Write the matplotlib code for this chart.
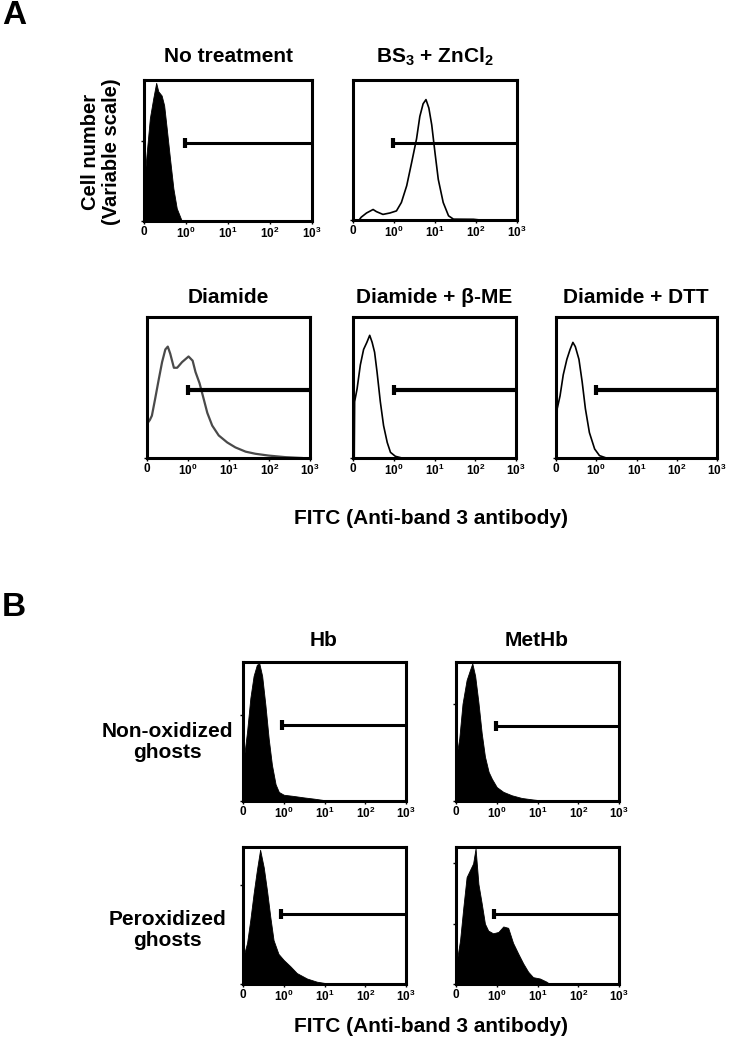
import matplotlib
matplotlib.use('Agg')
import matplotlib.pyplot as plt

plt.rcParams['font.family'] = ['Liberation Sans', 'DejaVu Sans']
plt.rcParams['font.weight'] = 'bold'
plt.rcParams['mathtext.fontset'] = 'custom'
plt.rcParams['mathtext.rm'] = 'Liberation Sans:bold'
plt.rcParams['mathtext.bf'] = 'Liberation Sans:bold'
plt.rcParams['mathtext.it'] = 'Liberation Sans:bold:italic'

W, H = 731, 1050

# x in decade display units: 0 -> "0", 1 -> 10^0, ... 4 -> 10^3
# y as fraction of each panel's (variable) scale
x_labels = ['0', r'$\mathbf{10^{0}}$', r'$\mathbf{10^{1}}$', r'$\mathbf{10^{2}}$', r'$\mathbf{10^{3}}$']

no_treat_x = [0.0, 0.02, 0.06, 0.14, 0.22, 0.29, 0.34, 0.42, 0.48, 0.54, 0.62, 0.70, 0.78, 0.86, 0.90]
no_treat_y = [0.0, 0.33, 0.47, 0.73, 0.87, 0.98, 0.92, 0.89, 0.82, 0.66, 0.44, 0.23, 0.09, 0.03, 0.0]

bs3_x = [0.15, 0.20, 0.33, 0.49, 0.57, 0.73, 0.90, 1.06, 1.18, 1.31, 1.43, 1.55, 1.63, 1.71, 1.78,
         1.85, 1.92, 2.00, 2.08, 2.20, 2.33, 2.45, 2.94, 3.10]
bs3_y = [0.0, 0.02, 0.05, 0.075, 0.06, 0.04, 0.05, 0.065, 0.125, 0.245, 0.41, 0.58, 0.74, 0.83, 0.86,
         0.80, 0.68, 0.48, 0.29, 0.125, 0.03, 0.006, 0.005, 0.0]

diamide_x = [0.01, 0.02, 0.07, 0.12, 0.20, 0.29, 0.37, 0.45, 0.51, 0.57, 0.66, 0.74, 0.86, 1.02, 1.12,
             1.19, 1.29, 1.39, 1.48, 1.60, 1.76, 1.97, 2.17, 2.42, 2.66, 2.99, 3.40, 3.80]
diamide_y = [0.0, 0.25, 0.27, 0.30, 0.42, 0.56, 0.68, 0.77, 0.79, 0.74, 0.64, 0.64, 0.68, 0.72, 0.69,
             0.61, 0.53, 0.42, 0.32, 0.23, 0.16, 0.11, 0.075, 0.045, 0.03, 0.017, 0.006, 0.0]

bme_x = [0.03, 0.04, 0.10, 0.18, 0.26, 0.34, 0.41, 0.47, 0.53, 0.59, 0.67, 0.75, 0.84, 0.92, 1.04, 1.20]
bme_y = [0.0, 0.40, 0.49, 0.66, 0.77, 0.82, 0.87, 0.82, 0.75, 0.61, 0.40, 0.23, 0.11, 0.04, 0.012, 0.0]

dtt_x = [0.02, 0.03, 0.10, 0.18, 0.27, 0.35, 0.42, 0.48, 0.57, 0.65, 0.73, 0.83, 0.96, 1.08, 1.25]
dtt_y = [0.0, 0.35, 0.44, 0.59, 0.70, 0.77, 0.82, 0.79, 0.70, 0.54, 0.35, 0.18, 0.064, 0.017, 0.0]

hb_non_x = [0.0, 0.01, 0.10, 0.18, 0.26, 0.34, 0.40, 0.47, 0.55, 0.63, 0.71, 0.80, 0.88, 1.00, 1.25,
            1.49, 1.74, 1.98, 2.15]
hb_non_y = [0.0, 0.28, 0.50, 0.74, 0.90, 0.98, 0.99, 0.90, 0.69, 0.45, 0.26, 0.12, 0.065, 0.045, 0.036,
            0.026, 0.017, 0.007, 0.0]

met_non_x = [0.0, 0.01, 0.08, 0.16, 0.26, 0.34, 0.40, 0.47, 0.55, 0.63, 0.71, 0.80, 0.88, 1.00, 1.16,
             1.37, 1.61, 1.86, 2.07, 2.23]
met_non_y = [0.0, 0.32, 0.45, 0.70, 0.87, 0.94, 0.99, 0.90, 0.71, 0.49, 0.32, 0.21, 0.16, 0.10, 0.066,
             0.041, 0.022, 0.012, 0.005, 0.0]

hb_per_x = [0.0, 0.01, 0.10, 0.18, 0.26, 0.34, 0.42, 0.51, 0.59, 0.67, 0.75, 0.87, 1.00, 1.16, 1.32,
            1.57, 1.81, 2.06, 2.55]
hb_per_y = [0.0, 0.20, 0.30, 0.47, 0.66, 0.83, 0.98, 0.85, 0.68, 0.49, 0.32, 0.22, 0.175, 0.13, 0.08,
            0.04, 0.017, 0.005, 0.0]

met_per_x = [0.0, 0.01, 0.10, 0.18, 0.26, 0.34, 0.42, 0.48, 0.55, 0.63, 0.71, 0.79, 0.91, 1.04, 1.16,
             1.28, 1.40, 1.53, 1.65, 1.77, 1.89, 2.06, 2.22, 2.30]
met_per_y = [0.0, 0.15, 0.32, 0.56, 0.78, 0.83, 0.88, 0.99, 0.73, 0.59, 0.44, 0.39, 0.37, 0.38, 0.42,
             0.41, 0.30, 0.22, 0.15, 0.09, 0.05, 0.04, 0.017, 0.0]

fig = plt.figure(figsize=(W / 100, H / 100), dpi=100)


def px_axes(l, t, r, b):
    return fig.add_axes([l / W, 1 - b / H, (r - l) / W, (b - t) / H])


def px_text(x, y, s, **kw):
    fig.text(x / W, 1 - y / H, s, ha='center', va='center', fontweight='bold', **kw)


def panel(rect, xs, ys, filled, gate_y, gate_x0=1.0, gate_lw=2.2, yticks=(),
          color='black', lw=1.0):
    ax = px_axes(*rect)
    if filled:
        ax.fill_between(xs, ys, 0, color='black', lw=0.6)
    else:
        ax.plot(xs, ys, color=color, lw=lw)
    ax.plot([gate_x0, 4], [gate_y, gate_y], color='black', lw=gate_lw, solid_capstyle='butt')
    ax.plot([gate_x0], [gate_y], marker='|', ms=7, mew=3, color='black')
    ax.set_xlim(0, 4)
    ax.set_ylim(0, 1)
    ax.set_xticks(range(5))
    ax.set_xticklabels(x_labels, fontsize=8.5, fontweight='bold')
    ax.set_yticks([0] + list(yticks))
    ax.set_yticklabels([])
    ax.tick_params(length=2.5, width=1, pad=1)
    for s in ax.spines.values():
        s.set_linewidth(2.2)
    return ax


# panel A
panel((144, 80, 312, 221), no_treat_x, no_treat_y, True, 0.55, 0.98, yticks=[0.57])
panel((353, 80, 517, 220), bs3_x, bs3_y, False, 0.55, 0.98, lw=1.2)
panel((147, 317, 310, 458), diamide_x, diamide_y, False, 0.48, 1.0, gate_lw=3.0,
      color='#4a4a4a', lw=1.6)
panel((353, 317, 516, 458), bme_x, bme_y, False, 0.48, 1.0, gate_lw=3.0, lw=1.2)
panel((556, 317, 717, 458), dtt_x, dtt_y, False, 0.48, 1.0, gate_lw=3.0, lw=1.2)

# panel B
panel((243, 662, 406, 801), hb_non_x, hb_non_y, True, 0.55, 0.96, yticks=[0.62])
panel((456, 662, 619, 801), met_non_x, met_non_y, True, 0.54, 0.98, yticks=[0.70])
panel((243, 847, 406, 984), hb_per_x, hb_per_y, True, 0.51, 0.94, yticks=[0.72])
panel((456, 847, 619, 984), met_per_x, met_per_y, True, 0.51, 0.94, yticks=[0.44, 0.88])

# labels
px_text(14, 15, 'A', fontsize=24)
px_text(14, 607, 'B', fontsize=24)

px_text(228, 57, 'No treatment', fontsize=15)
px_text(435, 57, r'BS$_\mathbf{3}$ + ZnCl$_\mathbf{2}$', fontsize=15)
px_text(101, 152, 'Cell number\n(Variable scale)', fontsize=14.5, rotation=90, linespacing=1.1)

px_text(228, 297, 'Diamide', fontsize=15)
px_text(434, 297, 'Diamide + β-ME', fontsize=15)
px_text(636, 297, 'Diamide + DTT', fontsize=15)
px_text(431, 519, 'FITC (Anti-band 3 antibody)', fontsize=15)

px_text(324, 640, 'Hb', fontsize=15)
px_text(537, 640, 'MetHb', fontsize=15)
px_text(167, 742, 'Non-oxidized\nghosts', fontsize=15, linespacing=1.1)
px_text(167, 930, 'Peroxidized\nghosts', fontsize=15, linespacing=1.1)
px_text(431, 1026, 'FITC (Anti-band 3 antibody)', fontsize=15)

fig.savefig('out.png', dpi=100)
